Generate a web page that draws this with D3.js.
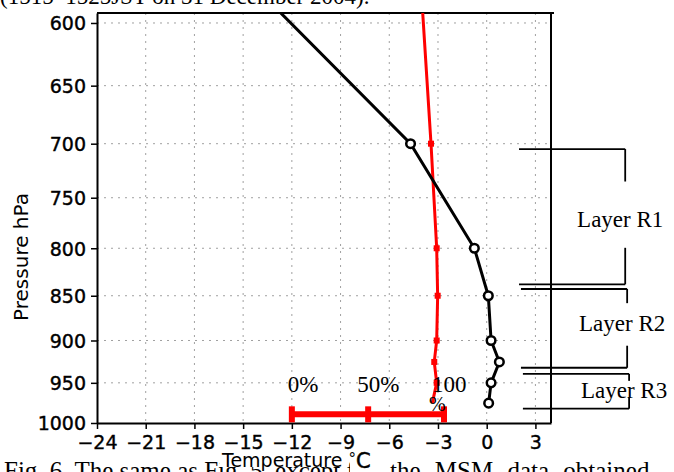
<!DOCTYPE html>
<html>
<head>
<meta charset="utf-8">
<script src="https://cdn.jsdelivr.net/npm/d3@7"></script>
<style>
  html, body { margin: 0; padding: 0; background: #fff; }
  svg { display: block; }
</style>
</head>
<body>
<svg id="chart" width="674" height="472"></svg>
<script>
// ---------- data ----------
const pressureTicks = [600, 650, 700, 750, 800, 850, 900, 950, 1000];
const tempTicks = [-24, -21, -18, -15, -12, -9, -6, -3, 0, 3];

// black profile (temperature, degC) at pressure levels (hPa)
const profileLevels = [500, 700, 800, 850, 900, 925, 950, 975];
const profileTemp   = [-20.8, -4.69, -0.76, 0.10, 0.27, 0.78, 0.27, 0.12];
const profileMarkerLevels = [700, 800, 850, 900, 925, 950, 975];

// red profile
const redLevels = [500, 700, 800, 850, 900, 925, 950, 975];
const redTemp   = [-4.46, -3.43, -3.08, -3.02, -3.08, -3.23, -3.08, -3.35];
const redMarkerLevels = [700, 800, 850, 900, 925, 950];

// percentage bar
const barPercent = ["0%", "50%", "100"];
const barTemp = [-12.0, -7.3, -2.63];
const barPressure = 989;

// layers
const layerNames  = ["Layer R1", "Layer R2", "Layer R3"];
const layerTop    = [704.8, 842.7, 939.2];
const layerBottom = [837.7, 931.9, 981.9];

const topCaption = "(1515\u20131525JST on 31 December 2004).";
const bottomCaptionA = "Fig. 6. The same as Fig. 5, except for";
const bottomCaptionB = "the MSM data obtained";

// ---------- scales ----------
const svg = d3.select("#chart");
const L = 97, R = 551, T = 13, B = 423;
const x = d3.scaleLinear().domain([-24, 3.96]).range([L, R]);
const y = d3.scaleLog().domain([592.4, 1000]).range([T, B]);

const sans = "'DejaVu Sans', sans-serif";
const serif = "'Liberation Serif', 'Times New Roman', serif";

// captions
svg.append("text").attr("x", 0).attr("y", 4)
  .attr("font-family", serif).attr("font-size", 23).attr("fill", "#000")
  .text(topCaption);
svg.append("text").attr("x", 4).attr("y", 479)
  .attr("font-family", serif).attr("font-size", 25).attr("fill", "#000")
  .text(bottomCaptionA);
svg.append("text").attr("x", 390).attr("y", 479)
  .attr("font-family", serif).attr("font-size", 25).attr("fill", "#000")
  .attr("word-spacing", 8)
  .text(bottomCaptionB);

// clip
svg.append("clipPath").attr("id", "plotclip")
  .append("rect").attr("x", L).attr("y", T).attr("width", R - L).attr("height", B - T);

// grid
const grid = svg.append("g");
grid.selectAll("line.h").data(pressureTicks.filter(p => p < 1000)).join("line")
  .attr("x1", L).attr("x2", R).attr("y1", d => y(d)).attr("y2", d => y(d))
  .attr("stroke", "#a0a0a0").attr("stroke-width", 1).attr("stroke-dasharray", "2,5");
grid.selectAll("line.v").data(tempTicks.filter(t => t > -24)).join("line")
  .attr("x1", d => x(d)).attr("x2", d => x(d)).attr("y1", T).attr("y2", B)
  .attr("stroke", "#a0a0a0").attr("stroke-width", 1).attr("stroke-dasharray", "2,5");

// axes
const yAxis = d3.axisLeft(y).tickValues(pressureTicks).tickFormat(d3.format("d"))
  .tickSizeInner(6).tickSizeOuter(0).tickPadding(5);
const gy = svg.append("g").attr("transform", `translate(${L},0)`).call(yAxis);
const xAxis = d3.axisBottom(x).tickValues(tempTicks)
  .tickFormat(d => d < 0 ? "\u2212" + Math.abs(d) : String(d))
  .tickSizeInner(6).tickSizeOuter(0).tickPadding(6);
const gx = svg.append("g").attr("transform", `translate(0,${B})`).call(xAxis);
[gx, gy].forEach(g => {
  g.select(".domain").attr("stroke", "#000").attr("stroke-width", 2);
  g.selectAll(".tick line").attr("stroke", "#000").attr("stroke-width", 1.5);
  g.selectAll(".tick text").attr("font-family", sans).attr("font-size", 19)
    .attr("fill", "#000").attr("stroke", "#000").attr("stroke-width", 0.4);
});
gy.selectAll(".tick text").attr("dy", "0.36em");
gx.selectAll(".tick text").attr("dy", "0.74em");

// frame top & right
svg.append("line").attr("x1", L).attr("x2", R + 3).attr("y1", T).attr("y2", T)
  .attr("stroke", "#000").attr("stroke-width", 2);
svg.append("line").attr("x1", R).attr("x2", R).attr("y1", T).attr("y2", B)
  .attr("stroke", "#000").attr("stroke-width", 2);

// plot content
const plot = svg.append("g").attr("clip-path", "url(#plotclip)");

const redLine = d3.line().x((d, i) => x(redTemp[i])).y(d => y(d));
plot.append("path").datum(redLevels).attr("d", redLine)
  .attr("fill", "none").attr("stroke", "#ff0000").attr("stroke-width", 3);
plot.selectAll("rect.rm").data(redMarkerLevels).join("rect")
  .attr("x", d => x(redTemp[redLevels.indexOf(d)]) - 3)
  .attr("y", d => y(d) - 3).attr("width", 6).attr("height", 6)
  .attr("fill", "#ff0000");

const blackLine = d3.line().x((d, i) => x(profileTemp[i])).y(d => y(d));
plot.append("path").datum(profileLevels).attr("d", blackLine)
  .attr("fill", "none").attr("stroke", "#000").attr("stroke-width", 3);
plot.selectAll("circle.bm").data(profileMarkerLevels).join("circle")
  .attr("cx", d => x(profileTemp[profileLevels.indexOf(d)]))
  .attr("cy", d => y(d)).attr("r", 4.3)
  .attr("fill", "#fff").attr("stroke", "#000").attr("stroke-width", 2.5);

// percentage bar
const by = y(barPressure);
svg.append("line").attr("x1", x(barTemp[0])).attr("x2", x(barTemp[2]))
  .attr("y1", by).attr("y2", by).attr("stroke", "#ff0000").attr("stroke-width", 6);
svg.selectAll("rect.bt").data(barTemp).join("rect")
  .attr("x", d => x(d) - 3).attr("y", by - 8).attr("width", 6).attr("height", 16)
  .attr("fill", "#ff0000");
const pctOffsets = [-4, -11, -12];
svg.selectAll("text.pct").data(barPercent).join("text")
  .attr("x", (d, i) => x(barTemp[i]) + pctOffsets[i]).attr("y", 392)
  .attr("font-family", serif).attr("font-size", 23).attr("fill", "#000")
  .text(d => d);
svg.append("text").attr("x", x(barTemp[2]) - 15).attr("y", 411)
  .attr("font-family", serif).attr("font-size", 20).attr("fill", "#000").text("%");

// layer brackets
const bx0 = [1.99, 2.11, 2.23], bx1 = [8.53, 8.65, 8.77];
const gapStart = [0.24, 0.18, 0.2], gapEnd = [0.73, 0.72, 0.67];
const labelShift = [10.5, 2.5, 7];
const lab = svg.append("g");
layerNames.forEach((name, i) => {
  const y0 = y(layerTop[i]), y1 = y(layerBottom[i]);
  const xa = x(bx0[i]), xb = x(bx1[i]);
  const h = y1 - y0;
  const seg = (a, b, c, d) => lab.append("line")
    .attr("x1", a).attr("y1", b).attr("x2", c).attr("y2", d)
    .attr("stroke", "#000").attr("stroke-width", 1.8);
  seg(xa, y0, xb, y0);
  seg(xa, y1, xb, y1);
  seg(xb, y0, xb, y0 + h * gapStart[i]);
  seg(xb, y0 + h * gapEnd[i], xb, y1);
  const cy = (y0 + y1) / 2;
  lab.append("text").attr("x", xb - 5).attr("y", cy + labelShift[i])
    .attr("text-anchor", "middle")
    .attr("font-family", serif).attr("font-size", 23).attr("fill", "#000")
    .text(name);
});

// axis titles
svg.append("text")
  .attr("transform", "translate(28,257) rotate(-90)")
  .attr("text-anchor", "middle")
  .attr("font-family", sans).attr("font-size", 20).attr("fill", "#000")
  .text("Pressure  hPa");

svg.append("rect").attr("x", 220).attr("y", 451).attr("width", 122).attr("height", 16).attr("fill", "#fff");
svg.append("rect").attr("x", 350).attr("y", 451).attr("width", 34).attr("height", 21).attr("fill", "#fff");
const tt = svg.append("text").attr("x", 222).attr("y", 467)
  .attr("font-family", sans).attr("font-size", 19).attr("fill", "#000");
tt.append("tspan").text("Temperature ");
tt.append("tspan").attr("font-size", 15).attr("dy", -3).text("\u00b0");
tt.append("tspan").attr("font-size", 21).attr("dy", 4)
  .attr("stroke", "#000").attr("stroke-width", 0.5).text("C");
</script>
</body>
</html>
